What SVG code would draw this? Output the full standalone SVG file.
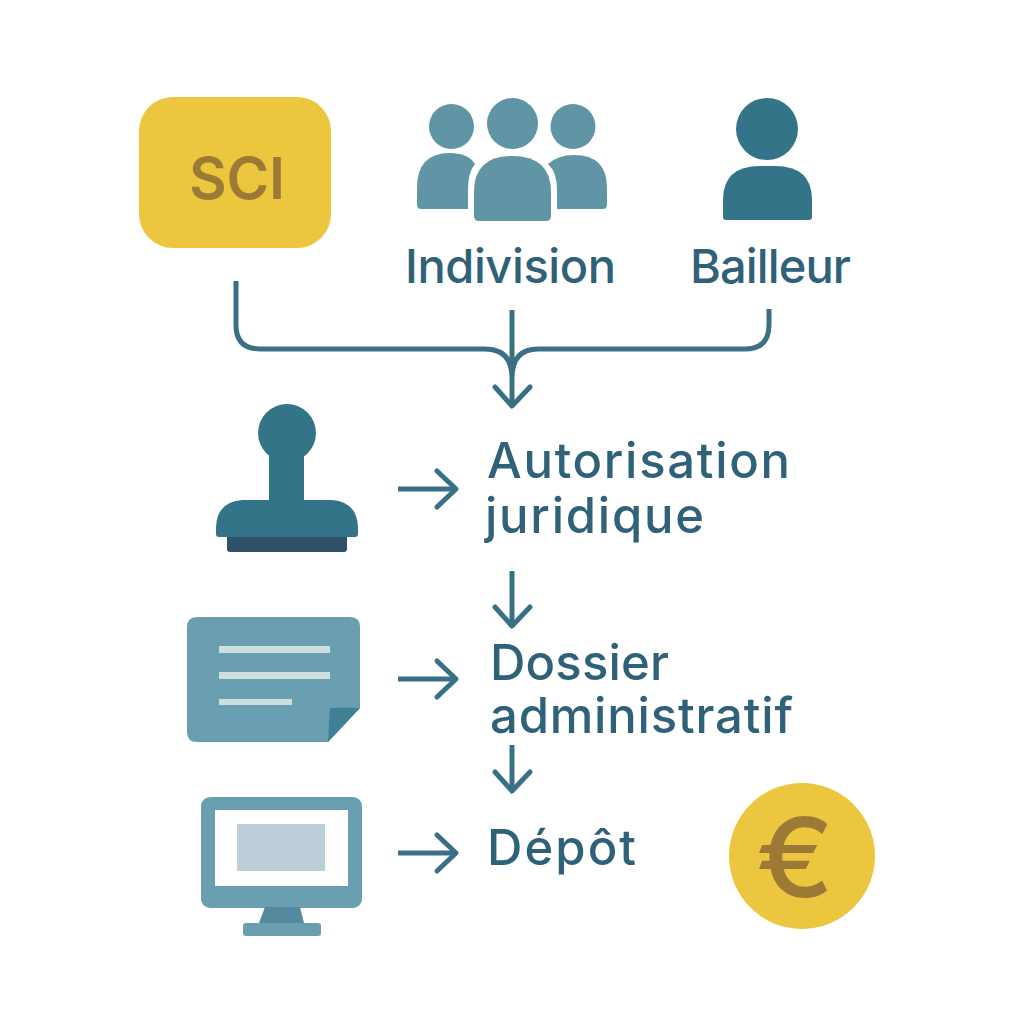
<svg xmlns="http://www.w3.org/2000/svg" width="1024" height="1024" viewBox="0 0 1024 1024">
<style>
text{font-family:"Inter","Liberation Sans",sans-serif;font-weight:500;fill:#2f6178}
.l{font-size:47px}
.m{font-size:49px}
.c{fill:none;stroke:#3a7085;stroke-width:5;stroke-linejoin:round}
.h{fill:none;stroke:#3a7085;stroke-width:5;stroke-linecap:round;stroke-linejoin:round}
.p{fill:#5f95a5}.d{fill:#337489}.f{fill:#6a9fb2}.g{fill:#ebc63e}
</style>
<rect width="1024" height="1024" fill="#fff"/>
<g id="sci"><rect class="g" x="139" y="97" width="192" height="151" rx="34"/><text x="189" y="199" textLength="96" style="font-size:58px;font-weight:600;fill:#9c7a35">SCI</text></g>
<g id="indivision">
<circle class="p" cx="451.500" cy="126.500" r="22.500"/><circle class="p" cx="573" cy="126.500" r="22.500"/><circle class="p" cx="512.500" cy="123.500" r="25.500"/>
<path class="p" d="M417 204V188Q417 153 450 153Q468 153 475 164Q468 172 468 190V209H421Q417 209 417 204Z"/>
<path class="p" d="M607 204V188Q607 155 574 155Q558 155 548 164Q557 172 557 190V209H603Q607 209 607 204Z"/>
<path class="p" d="M474 216V192Q474 156 512 156Q551 156 551 192V216Q551 221 546 221H479Q474 221 474 216Z"/>
<text class="l" x="405" y="283" textLength="211">Indivision</text></g>
<g id="bailleur"><circle class="d" cx="767" cy="129" r="31"/><path class="d" d="M723 217V200Q723 166 760 166H775Q812 166 812 200V217Q812 220 809 220H726Q723 220 723 217Z"/><text class="l" x="690" y="283" textLength="161">Bailleur</text></g>
<g id="connectors">
<path class="c" d="M236 281V325Q236 349 260 349H485Q512 349 512 378M512 310V405M769 309V325Q769 349 745 349H538Q512 349 512 378"/>
<path class="h" d="M495 387L512 406L530 387"/>
<path class="c" d="M398 489H455"/><path class="h" d="M437 471L456 489L437 507"/>
<path class="c" d="M512 571V626"/><path class="h" d="M495 607L512 626L530 607"/>
<path class="c" d="M398 679H455"/><path class="h" d="M437 661L456 679L437 697"/>
<path class="c" d="M512 745V791"/><path class="h" d="M495 772L512 791L530 772"/>
<path class="c" d="M398 853H455"/><path class="h" d="M437 835L456 853L437 871"/>
</g>
<g id="autorisation"><circle class="d" cx="287" cy="433" r="29"/><path class="d" d="M269 450H304V500H332Q357 502 358 527V534Q358 537 355 537H219Q216 537 216 534V527Q217 502 242 500H269Z"/><path fill="#2f5069" d="M227 537H347V549Q347 552 344 552H230Q227 552 227 549Z"/>
<text class="m" x="487" y="478" textLength="303">Autorisation</text><text class="m" x="485" y="533" textLength="219">juridique</text></g>
<g id="dossier"><path class="f" d="M197 617H350Q360 617 360 627V708L328 742H197Q187 742 187 732V627Q187 617 197 617Z"/><path fill="#3f8097" d="M360 708Q345 707 330 708L328 742Z"/>
<g fill="#cfdfe0"><rect x="219" y="646" width="111" height="7"/><rect x="219" y="672" width="111" height="7"/><rect x="219" y="699" width="73" height="6"/></g>
<text class="m" x="490" y="680" textLength="179">Dossier</text><text class="m" x="490" y="733" textLength="303">administratif</text></g>
<g id="depot"><rect class="f" x="201" y="797" width="161" height="111" rx="9"/><rect fill="#fff" x="215" y="810" width="133" height="76"/><rect fill="#bdcfd8" x="237" y="824" width="88" height="47"/><path fill="#55899e" d="M259 923L265 907H300L304 923Z"/><rect class="f" x="243" y="923" width="78" height="13" rx="3"/>
<text class="m" x="487" y="865" textLength="149">Dépôt</text></g>
<g id="euro"><circle class="g" cx="802" cy="856" r="73"/><text x="756" y="897" textLength="78" lengthAdjust="spacingAndGlyphs" style="font-size:110px;fill:#9c7a35">€</text></g>
</svg>
